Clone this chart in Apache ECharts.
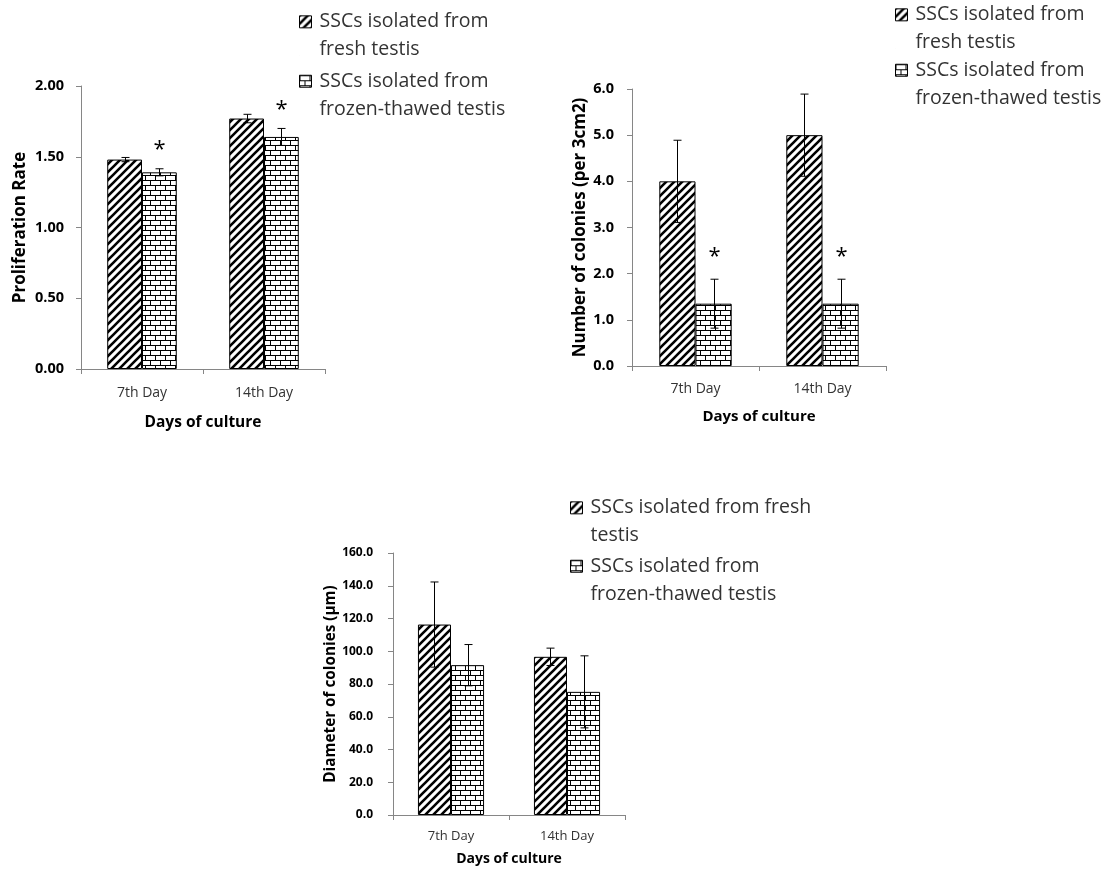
<!DOCTYPE html>
<html><head><meta charset="utf-8">
<script src="https://cdn.jsdelivr.net/npm/echarts@6/dist/echarts.min.js"></script>
<style>html,body{margin:0;padding:0;background:#fff}#c{width:1112px;height:869px}</style>
</head><body><div id="c"></div>
<script>
// ---------- DATA ----------
const categories = ['7th Day', '14th Day'];
const seriesNames = ['SSCs isolated from fresh testis', 'SSCs isolated from frozen-thawed testis'];

// Panel 1: proliferation rate
const prolifFresh = [1.48, 1.77];
const prolifFreshErr = [0.015, 0.03];
const prolifFrozen = [1.39, 1.64];
const prolifFrozenErr = [0.025, 0.06];
const prolifFrozenSig = [true, true];
const prolifAxis = { min: 0, max: 2, interval: 0.5, decimals: 2, name: 'Proliferation Rate' };

// Panel 2: number of colonies
const colFresh = [4.0, 5.0];
const colFreshErr = [0.89, 0.89];
const colFrozen = [1.35, 1.35];
const colFrozenErr = [0.53, 0.53];
const colFrozenSig = [true, true];
const colAxis = { min: 0, max: 6, interval: 1, decimals: 1, name: 'Number of colonies (per 3cm2)' };

// Panel 3: diameter of colonies
const diamFresh = [116.3, 96.6];
const diamFreshErr = [26.0, 5.3];
const diamFrozen = [91.5, 75.2];
const diamFrozenErr = [12.6, 22.0];
const diamFrozenSig = [false, false];
const diamAxis = { min: 0, max: 160, interval: 20, decimals: 1, name: 'Diameter of colonies (\u03bcm)' };

const xAxisName = 'Days of culture';

// ---------- PATTERNS ----------
function stripePattern() {
  const c = document.createElement('canvas'); c.width = 8; c.height = 8;
  const g = c.getContext('2d');
  g.fillStyle = '#fff'; g.fillRect(0, 0, 8, 8);
  g.strokeStyle = '#000'; g.lineWidth = 2.6;
  g.beginPath();
  for (let k = -1; k <= 1; k++) { g.moveTo(k * 8 - 1, 9); g.lineTo(k * 8 + 9, -1); }
  g.stroke();
  return c;
}
function brickPattern() {
  const c = document.createElement('canvas'); c.width = 10; c.height = 10;
  const g = c.getContext('2d');
  g.fillStyle = '#fff'; g.fillRect(0, 0, 10, 10);
  g.strokeStyle = '#000'; g.lineWidth = 1;
  g.beginPath();
  g.moveTo(0, 0.5); g.lineTo(10, 0.5);
  g.moveTo(0, 5.5); g.lineTo(10, 5.5);
  g.moveTo(0.5, 0); g.lineTo(0.5, 5.5);
  g.moveTo(5.5, 5.5); g.lineTo(5.5, 10);
  g.stroke();
  return c;
}
const stripe = { image: stripePattern(), repeat: 'repeat' };
const brick = { image: brickPattern(), repeat: 'repeat' };

const FONT = '"Open Sans", "DejaVu Sans", sans-serif';
const CAT_GAP = 0.43;

// ---------- PANELS ----------
const panels = [
  { grid: { left: 81, top: 86, width: 244, height: 283 }, axis: prolifAxis,
    fresh: prolifFresh, freshErr: prolifFreshErr, frozen: prolifFrozen, frozenErr: prolifFrozenErr, sig: prolifFrozenSig,
    tickSize: 14.5, tickMargin: 17, catSize: 14, yNameSize: 17, yNameGap: 52, xNameSize: 15.5, xNameGap: 46, catMargin: 17, starGap: 19 },
  { grid: { left: 632, top: 89, width: 254, height: 277 }, axis: colAxis,
    fresh: colFresh, freshErr: colFreshErr, frozen: colFrozen, frozenErr: colFrozenErr, sig: colFrozenSig,
    tickSize: 14.5, tickMargin: 18, catSize: 14, yNameSize: 17, yNameGap: 43, xNameSize: 15, xNameGap: 43, catMargin: 16, starGap: 22 },
  { grid: { left: 393, top: 553, width: 232, height: 262 }, axis: diamAxis,
    fresh: diamFresh, freshErr: diamFreshErr, frozen: diamFrozen, frozenErr: diamFrozenErr, sig: diamFrozenSig,
    tickSize: 12, tickMargin: 20, catSize: 13, yNameSize: 15.3, yNameGap: 52, xNameSize: 14, xNameGap: 37, catMargin: 15, starGap: 20 }
];

function barSeries(name, data, idx, pattern) {
  return {
    type: 'bar', name, xAxisIndex: idx, yAxisIndex: idx, data,
    barGap: '0%', barCategoryGap: (CAT_GAP * 100) + '%',
    itemStyle: { color: pattern, borderColor: '#000', borderWidth: 1 },
    emphasis: { disabled: true }, silent: true
  };
}

function errSeries(vals, errs, sigs, idx, side, starGap) {
  return {
    type: 'custom', xAxisIndex: idx, yAxisIndex: idx, silent: true, z: 5,
    data: vals.map((v, i) => [i, v, errs[i], sigs && sigs[i] ? 1 : 0]),
    encode: { x: 0, y: 1 },
    renderItem(params, api) {
      const i = api.value(0), v = api.value(1), e = api.value(2), s = api.value(3);
      const band = api.size([1, 0])[0];
      const bw = band * (1 - CAT_GAP) / 2;
      const cx = Math.round(api.coord([i, v])[0] + side * bw / 2) + 0.5;
      const yT = api.coord([i, v + e])[1], yB = api.coord([i, v - e])[1];
      const cap = 4;
      const st = { stroke: '#000', lineWidth: 1 };
      const children = [
        { type: 'line', shape: { x1: cx, y1: yT, x2: cx, y2: yB }, style: st },
        { type: 'line', shape: { x1: cx - cap, y1: yT, x2: cx + cap, y2: yT }, style: st },
        { type: 'line', shape: { x1: cx - cap, y1: yB, x2: cx + cap, y2: yB }, style: st }
      ];
      if (s) children.push({ type: 'text', x: cx, y: yT - starGap,
        style: { text: '*', font: '22px ' + FONT, fill: '#000', align: 'center', verticalAlign: 'middle' } });
      return { type: 'group', children };
    }
  };
}

const grids = [], xAxes = [], yAxes = [], series = [];
panels.forEach((p, idx) => {
  grids.push(Object.assign({ containLabel: false }, p.grid));
  xAxes.push({
    type: 'category', gridIndex: idx, data: categories,
    name: xAxisName, nameLocation: 'middle', nameGap: p.xNameGap,
    nameTextStyle: { fontFamily: FONT, fontWeight: 'bold', fontSize: p.xNameSize, color: '#000' },
    axisLine: { lineStyle: { color: '#868686', width: 1 } },
    axisTick: { show: true, length: 5, lineStyle: { color: '#868686' } },
    axisLabel: { fontFamily: FONT, fontSize: p.catSize, color: '#333', margin: p.catMargin },
    splitLine: { show: false }
  });
  yAxes.push({
    type: 'value', gridIndex: idx, min: p.axis.min, max: p.axis.max, interval: p.axis.interval,
    name: p.axis.name, nameLocation: 'middle', nameGap: p.yNameGap,
    nameTextStyle: { fontFamily: FONT, fontWeight: 'bold', fontSize: p.yNameSize, color: '#000' },
    axisLine: { show: true, lineStyle: { color: '#868686', width: 1 } },
    axisTick: { show: true, length: 5, lineStyle: { color: '#868686' } },
    axisLabel: { fontFamily: FONT, fontWeight: 'bold', fontSize: p.tickSize, color: '#000', margin: p.tickMargin,
      formatter: v => Number(v).toFixed(p.axis.decimals) },
    splitLine: { show: false }
  });
  series.push(barSeries(seriesNames[0], p.fresh, idx, stripe));
  series.push(barSeries(seriesNames[1], p.frozen, idx, brick));
  series.push(errSeries(p.fresh, p.freshErr, null, idx, -1, p.starGap));
  series.push(errSeries(p.frozen, p.frozenErr, p.sig, idx, 1, p.starGap));
});

const LINE_H = 27.7;
const ICON_W = 12;
const ICON_H = ICON_W + LINE_H;
const ICON = 'path://M0,0L' + ICON_W + ',0L' + ICON_W + ',' + ICON_W + 'L0,' + ICON_W + 'Z M0,' + ICON_H + 'L0,' + (ICON_H + 0.01);
function legendCfg(left, top, gap, labels) {
  return {
    orient: 'vertical', left, top, padding: 0, itemGap: gap,
    itemWidth: ICON_W, itemHeight: ICON_H, icon: ICON, selectedMode: false,
    itemStyle: { borderColor: '#000', borderWidth: 1 },
    data: seriesNames,
    formatter: n => labels[seriesNames.indexOf(n)],
    textStyle: { fontFamily: FONT, fontSize: 19.5, lineHeight: LINE_H, color: '#333', padding: [0, 0, 0, 3] }
  };
}
const legends = [
  legendCfg(299, 8, 4, ['SSCs isolated from\nfresh testis', 'SSCs isolated from\nfrozen-thawed testis']),
  legendCfg(895, 1, 0, ['SSCs isolated from\nfresh testis', 'SSCs isolated from\nfrozen-thawed testis']),
  legendCfg(570, 494, 3, ['SSCs isolated from fresh\ntestis', 'SSCs isolated from\nfrozen-thawed testis'])
];

const chart = echarts.init(document.getElementById('c'), null, { renderer: 'canvas' });
chart.setOption({
  animation: false,
  backgroundColor: '#fff',
  legend: legends,
  grid: grids,
  xAxis: xAxes,
  yAxis: yAxes,
  series
});
</script></body></html>
